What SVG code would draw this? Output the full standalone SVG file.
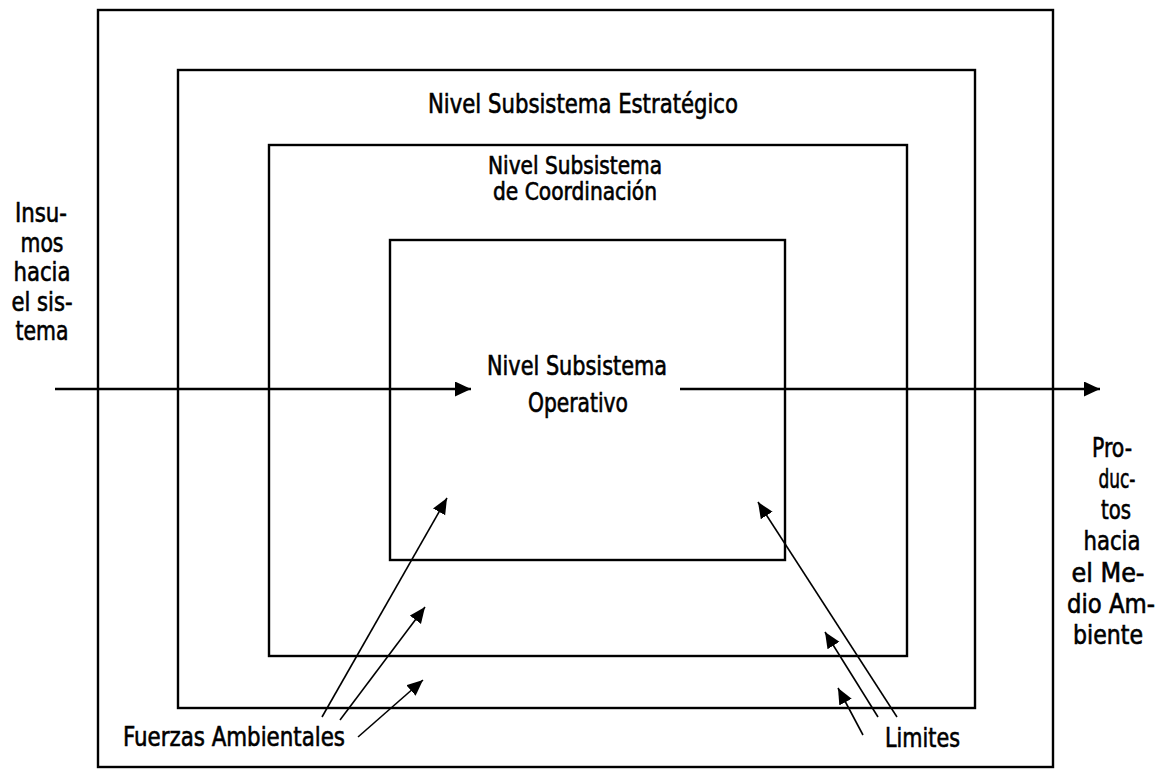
<svg xmlns="http://www.w3.org/2000/svg" width="1161" height="770" viewBox="0 0 1161 770">
  <style>
    .box { fill: none; stroke: #000; stroke-width: 2.4; }
    .flow { fill: none; stroke: #000; stroke-width: 2.4; }
    .force { fill: none; stroke: #000; stroke-width: 1.6; }
    text { font-family: "Liberation Sans Narrow", "DejaVu Sans Condensed", "Liberation Sans", sans-serif; font-stretch: condensed; font-size: 27px; fill: #000; stroke: #000; stroke-width: 0.6; }
    .c { text-anchor: middle; }
    .s { font-size: 24px; }
  </style>
  <defs>
    <marker id="headBig" markerUnits="userSpaceOnUse" markerWidth="18" markerHeight="16" refX="16" refY="7.5" orient="auto">
      <path d="M0,0 L16,7.5 L0,15 z" fill="#000"/>
    </marker>
    <marker id="head" markerUnits="userSpaceOnUse" markerWidth="18" markerHeight="16" refX="16" refY="7" orient="auto">
      <path d="M0,0 L16,7 L0,14 z" fill="#000"/>
    </marker>
  </defs>

  <rect width="1161" height="770" fill="#fff"/>

  <!-- nested subsystem levels -->
  <g id="sistema">
    <rect class="box" x="98" y="10" width="955" height="757"/>
  </g>
  <g id="estrategico">
    <rect class="box" x="178" y="70" width="797" height="638"/>
    <text x="583" y="113" textLength="310" lengthAdjust="spacingAndGlyphs" class="c">Nivel Subsistema Estratégico</text>
  </g>
  <g id="coordinacion">
    <rect class="box" x="269" y="145" width="638" height="511"/>
    <text x="575" y="174" textLength="174" lengthAdjust="spacingAndGlyphs" class="c s">Nivel Subsistema</text>
    <text x="575" y="200" textLength="164" lengthAdjust="spacingAndGlyphs" class="c s">de Coordinación</text>
  </g>
  <g id="operativo">
    <rect class="box" x="390" y="240" width="395" height="320"/>
    <text x="577" y="375" textLength="180" lengthAdjust="spacingAndGlyphs" class="c">Nivel Subsistema</text>
    <text x="578" y="412" textLength="100" lengthAdjust="spacingAndGlyphs" class="c">Operativo</text>
  </g>

  <!-- inputs and outputs -->
  <g id="insumos">
    <text x="41" y="222" textLength="52" lengthAdjust="spacingAndGlyphs" class="c">Insu-</text>
    <text x="42" y="252" textLength="43" lengthAdjust="spacingAndGlyphs" class="c">mos</text>
    <text x="42" y="281" textLength="57" lengthAdjust="spacingAndGlyphs" class="c">hacia</text>
    <text x="42" y="311" textLength="61" lengthAdjust="spacingAndGlyphs" class="c">el sis-</text>
    <text x="42" y="340" textLength="53" lengthAdjust="spacingAndGlyphs" class="c">tema</text>
  </g>
  <g id="productos">
    <text x="1112" y="457" textLength="40" lengthAdjust="spacingAndGlyphs" class="c">Pro-</text>
    <text x="1117" y="488" textLength="37" lengthAdjust="spacingAndGlyphs" class="c">duc-</text>
    <text x="1116" y="519" textLength="30" lengthAdjust="spacingAndGlyphs" class="c">tos</text>
    <text x="1112" y="550" textLength="57" lengthAdjust="spacingAndGlyphs" class="c">hacia</text>
    <text x="1108" y="582" textLength="73" lengthAdjust="spacingAndGlyphs" class="c">el Me-</text>
    <text x="1111" y="613" textLength="88" lengthAdjust="spacingAndGlyphs" class="c">dio Am-</text>
    <text x="1108" y="644" textLength="70" lengthAdjust="spacingAndGlyphs" class="c">biente</text>
  </g>

  <!-- environmental forces and boundaries labels -->
  <g id="fuerzas">
    <text x="123" y="746" textLength="222" lengthAdjust="spacingAndGlyphs">Fuerzas Ambientales</text>
  </g>
  <g id="limites">
    <text x="885" y="747" textLength="75" lengthAdjust="spacingAndGlyphs">Limites</text>
  </g>

  <g id="connectors">
    <line class="flow" x1="55" y1="389" x2="471" y2="389" marker-end="url(#headBig)"/>
    <line class="flow" x1="680" y1="389" x2="1100" y2="389" marker-end="url(#headBig)"/>

    <line class="force" x1="322" y1="717" x2="447" y2="498" marker-end="url(#head)"/>
    <line class="force" x1="340" y1="720" x2="425" y2="607" marker-end="url(#head)"/>
    <line class="force" x1="358" y1="737" x2="423" y2="680" marker-end="url(#head)"/>

    <line class="force" x1="897" y1="717" x2="758" y2="502" marker-end="url(#head)"/>
    <line class="force" x1="878" y1="717" x2="825" y2="632" marker-end="url(#head)"/>
    <line class="force" x1="863" y1="735" x2="838" y2="688" marker-end="url(#head)"/>
  </g>
</svg>
